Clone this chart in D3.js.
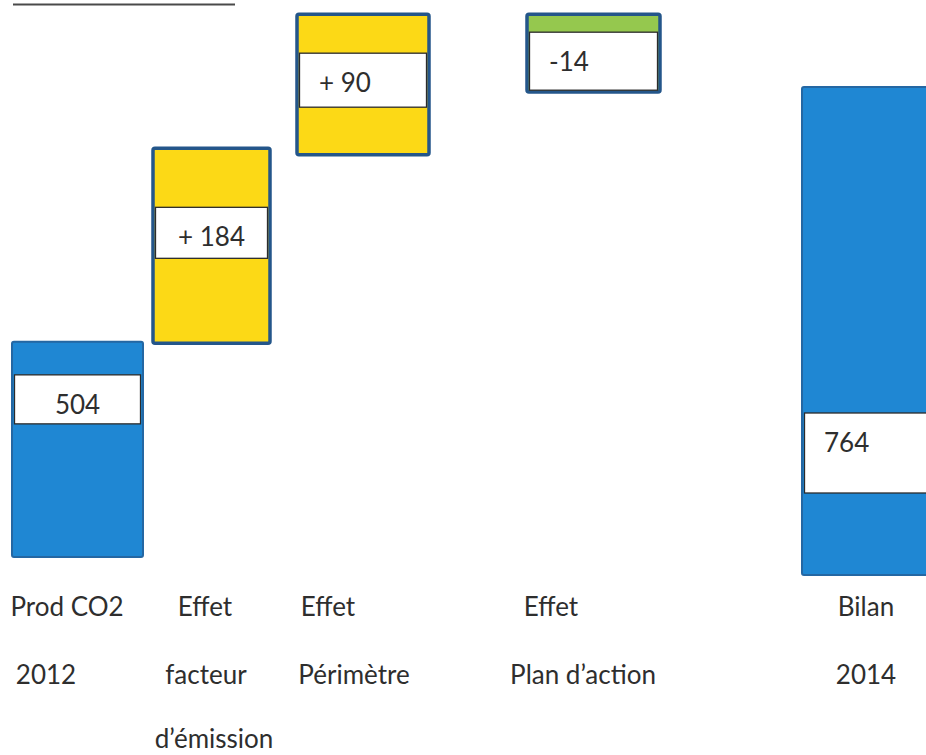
<!DOCTYPE html>
<html>
<head>
<meta charset="utf-8">
<script src="https://cdn.jsdelivr.net/npm/d3@7/dist/d3.min.js"></script>
<style>
  html, body { margin: 0; padding: 0; background: #ffffff; }
  svg { display: block; }
  text { font-family: "Lato", "Open Sans", sans-serif; fill: #2e2e2e; }
</style>
</head>
<body>
<script>
// ---------------- DATA ----------------
const categories = ["Prod CO2 2012", "Effet facteur d’émission", "Effet Périmètre", "Effet Plan d’action", "Bilan 2014"];
const categoryLines = [["Prod CO2", "2012"], ["Effet", "facteur", "d’émission"], ["Effet", "Périmètre"], ["Effet", "Plan d’action"], ["Bilan", "2014"]];
const values = [504, 184, 90, -14, 764];
const valueLabels = ["504", "+ 184", "+ 90", "-14", "764"];
const barKind = ["total", "increase", "increase", "decrease", "total"];
// extents of each drawn bar (schematic, not to scale), in chart units
const drawnBottom = [28, 363, 658, 756, 0];
const drawnTop = [365, 668, 878, 878, 764];

// ---------------- LAYOUT / STYLE ----------------
const W = 926, H = 755;
const barLeft = [12, 153, 297, 527, 802];
const barWidth = [131, 117, 132, 133, 133];
const boxOffset = [33, 59, 39, 18, 326];   // white label box top, below bar top (px)
const boxHeight = [49, 51, 54, 58, 80];
const labelAnchor = ["middle", "middle", "start", "start", "start"];
const lineCenters = [[67, 46], [205, 206, 214], [328, 354], [551, 583], [866, 866]];
const lineBaselines = [616, 684, 748];
const colors = { total: "#1f87d3", increase: "#fcd916", decrease: "#95c84e" };
const borderColors = { total: "#2467a3", increase: "#24568a", decrease: "#24568a" };
const borderWidths = { total: 2, increase: 3.5, decrease: 3.5 };
const fontSize = 26;

const svg = d3.select("body").append("svg").attr("width", W).attr("height", H);

const y = d3.scaleLinear().domain([0, 764]).range([575, 87]);

// title underline (title itself is cut off at the top edge)
svg.append("line").attr("x1", 13).attr("x2", 235).attr("y1", 4.5).attr("y2", 4.5)
  .attr("stroke", "#4a4a4a").attr("stroke-width", 2);

const data = categories.map((c, i) => ({
  c, i, v: values[i], label: valueLabels[i], kind: barKind[i],
  lo: drawnBottom[i], hi: drawnTop[i]
}));

const g = svg.append("g");

// bars
g.selectAll("rect.bar").data(data).enter().append("rect")
  .attr("class", "bar")
  .attr("x", d => barLeft[d.i])
  .attr("width", d => barWidth[d.i])
  .attr("y", d => y(d.hi))
  .attr("height", d => y(d.lo) - y(d.hi))
  .attr("rx", 2)
  .attr("fill", d => colors[d.kind])
  .attr("stroke", d => borderColors[d.kind])
  .attr("stroke-width", d => borderWidths[d.kind]);

// white label boxes
g.selectAll("rect.box").data(data).enter().append("rect")
  .attr("class", "box")
  .attr("x", d => barLeft[d.i] + 2.5)
  .attr("width", d => barWidth[d.i] - 5)
  .attr("y", d => y(d.hi) + boxOffset[d.i])
  .attr("height", d => boxHeight[d.i])
  .attr("fill", "#ffffff")
  .attr("stroke", "#2b2b2b")
  .attr("stroke-width", 1.3);

// value labels
g.selectAll("text.val").data(data).enter().append("text")
  .attr("class", "val")
  .attr("x", d => labelAnchor[d.i] === "middle" ? barLeft[d.i] + barWidth[d.i] / 2 : barLeft[d.i] + 22)
  .attr("y", d => y(d.hi) + boxOffset[d.i] + 39)
  .attr("text-anchor", d => labelAnchor[d.i])
  .style("font-size", fontSize + "px")
  .text(d => d.label);

// category labels
data.forEach(d => {
  categoryLines[d.i].forEach((line, j) => {
    svg.append("text")
      .attr("x", lineCenters[d.i][j])
      .attr("y", lineBaselines[j])
      .attr("text-anchor", "middle")
      .style("font-size", fontSize + "px")
      .text(line);
  });
});
</script>
</body>
</html>
